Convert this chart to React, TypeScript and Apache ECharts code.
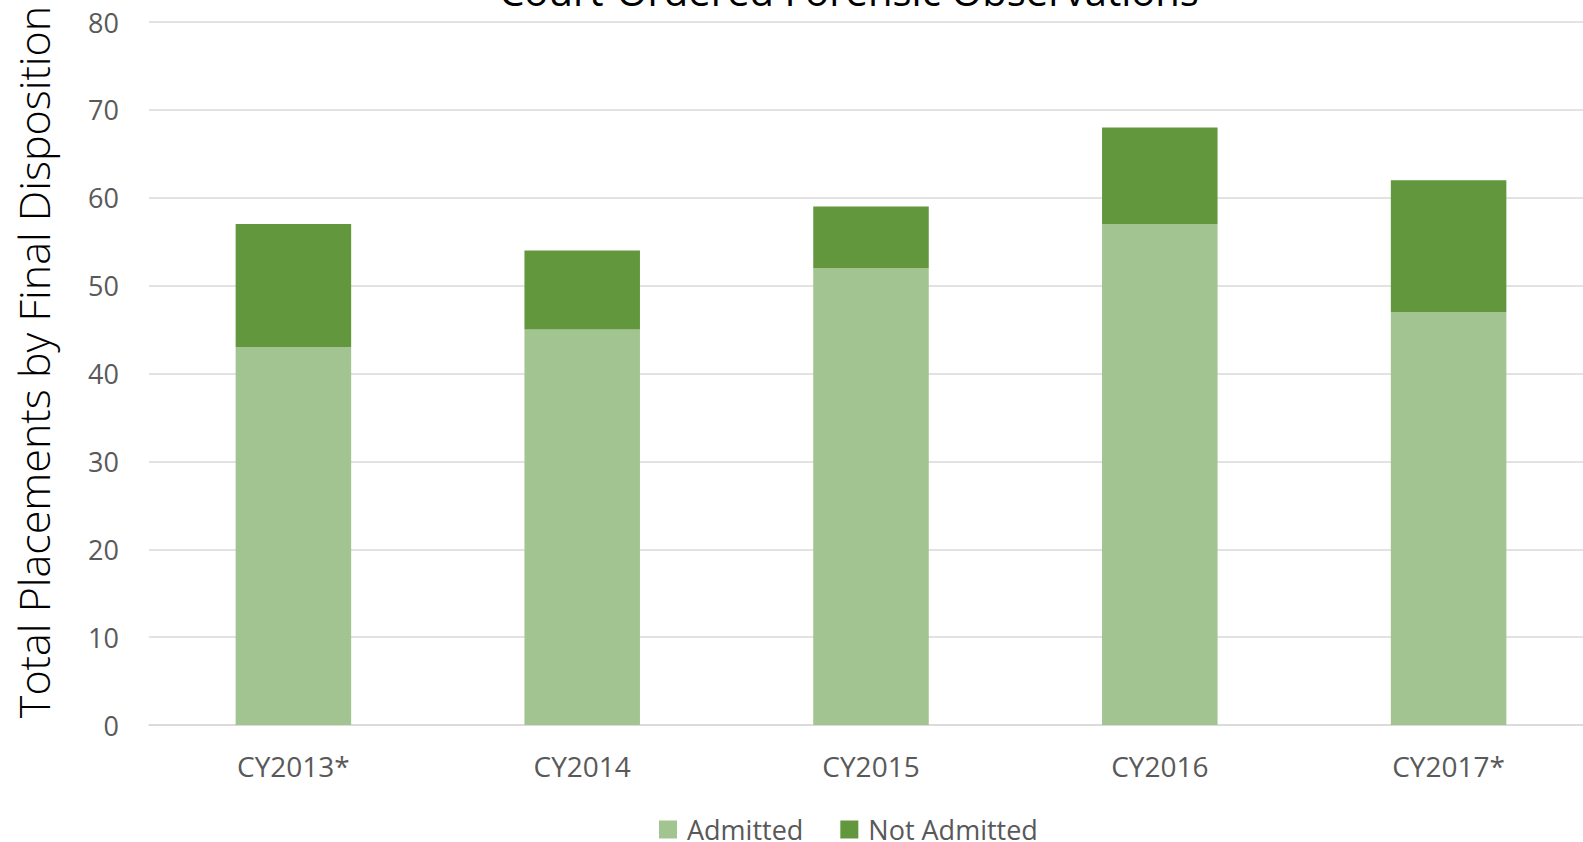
import React, { useEffect, useRef } from "react";
import * as echarts from "echarts";

const categories = ["CY2013*", "CY2014", "CY2015", "CY2016", "CY2017*"];
const admitted = [43, 45, 52, 57, 47];
const notAdmitted = [14, 9, 7, 11, 15];
const yTicks = { min: 0, max: 80, interval: 10 };
const titleText = "Court-Ordered Forensic Observations";
const yAxisTitle = "Total Placements by Final Disposition";
const seriesNames = ["Admitted", "Not Admitted"];

export default function App() {
  const ref = useRef<HTMLDivElement>(null);
  useEffect(() => {
    if (!ref.current) return;
    const chart = echarts.init(ref.current, undefined, { renderer: "svg" });
    const font = "'Open Sans', sans-serif";
    chart.setOption({
      animation: false,
      backgroundColor: "#ffffff",
      title: {
        text: titleText,
        left: 844,
        textAlign: "center",
        top: -35,
        textStyle: { fontFamily: font, fontSize: 40, fontWeight: "normal", color: "#000000" },
      },
      graphic: [
        {
          type: "text",
          x: 33,
          y: 362,
          rotation: Math.PI / 2,
          style: {
            text: yAxisTitle,
            font: "300 43px 'Open Sans', sans-serif",
            fill: "#000000",
            textAlign: "center",
            textVerticalAlign: "middle",
          },
        },
      ],
      legend: {
        data: seriesNames,
        left: 654,
        top: 811,
        itemWidth: 18,
        itemHeight: 18,
        itemGap: 37,
        icon: "rect",
        textStyle: { fontFamily: font, fontSize: 27, color: "#595959", padding: [0, 0, 0, 5] },
      },
      grid: { left: 149, right: 0, top: 22, bottom: 117, containLabel: false },
      xAxis: {
        type: "category",
        data: categories,
        axisLine: { lineStyle: { color: "#D9D9D9", width: 1.5 } },
        axisTick: { show: false },
        axisLabel: { fontFamily: font, fontSize: 28, color: "#595959", margin: 27 },
      },
      yAxis: {
        type: "value",
        min: yTicks.min,
        max: yTicks.max,
        interval: yTicks.interval,
        axisLine: { show: false },
        axisTick: { show: false },
        splitLine: { lineStyle: { color: "#D9D9D9", width: 1.5 } },
        axisLabel: { fontFamily: font, fontSize: 27, color: "#595959", margin: 30 },
      },
      series: [
        {
          name: seriesNames[0],
          type: "bar",
          stack: "total",
          data: admitted,
          barWidth: "40%",
          itemStyle: { color: "#A2C490" },
        },
        {
          name: seriesNames[1],
          type: "bar",
          stack: "total",
          data: notAdmitted,
          barWidth: "40%",
          itemStyle: { color: "#62973D" },
        },
      ],
    });
    return () => chart.dispose();
  }, []);
  return (
    <div
      ref={ref}
      style={{ position: "fixed", left: 0, top: 0, width: 1593, height: 842 }}
    />
  );
}
